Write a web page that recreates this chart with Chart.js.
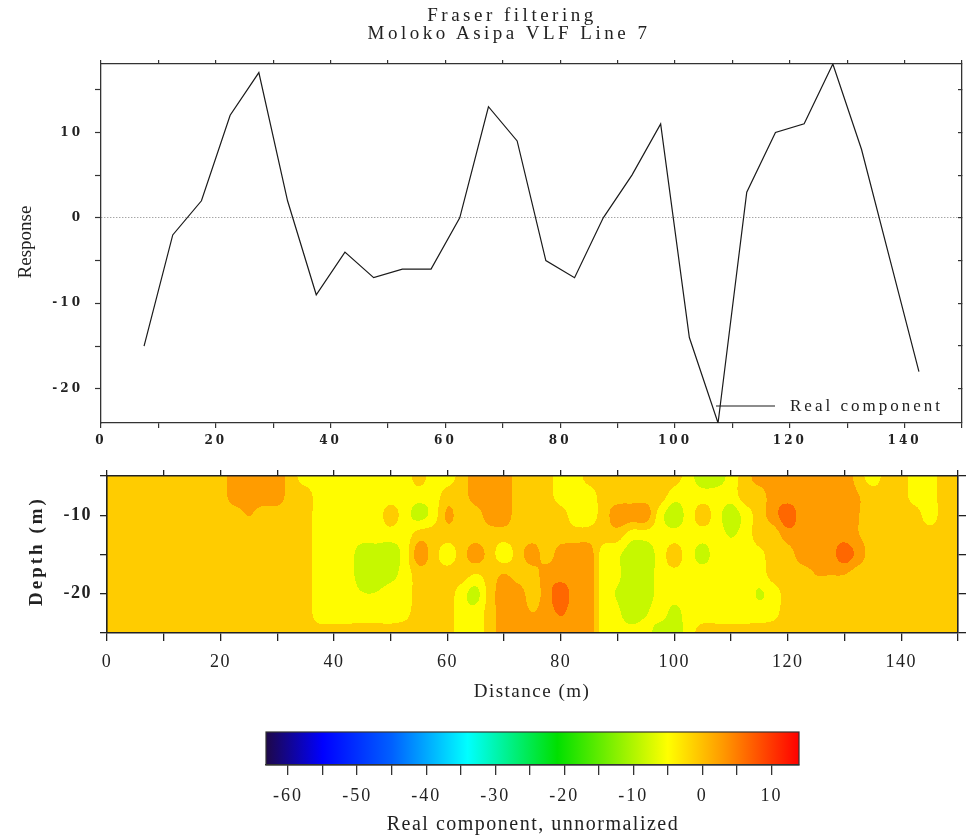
<!DOCTYPE html>
<html>
<head>
<meta charset="utf-8">
<script src="https://cdn.jsdelivr.net/npm/chart.js@4.4.1/dist/chart.umd.min.js"></script>
<style>
  html, body { margin: 0; padding: 0; background: #fff; }
  #page { position: relative; width: 968px; height: 835px; overflow: hidden; font-family: "Liberation Serif", serif; color: #222; }
  .box { position: absolute; left: 0; width: 968px; }
  .txt { position: absolute; white-space: nowrap; transform: translate(-50%, -50%); line-height: 1; }
  .rot { transform: translate(-50%, -50%) rotate(-90deg); }
</style>
</head>
<body>
<div id="page">
  <div class="box" style="top:0;height:450px"><canvas id="profile"></canvas></div>
  <div class="box" style="top:450px;height:270px"><canvas id="section"></canvas></div>
  <div class="box" style="top:720px;height:115px"><canvas id="scale"></canvas></div>

  <div class="txt" style="left:512px;top:14px;font-size:19px;letter-spacing:3.5px">Fraser filtering</div>
  <div class="txt" style="left:509px;top:32px;font-size:19px;letter-spacing:3.5px">Moloko Asipa VLF Line 7</div>
  <div class="txt rot" style="left:24px;top:242px;font-size:19px">Response</div>
  <div class="txt rot" style="left:35px;top:551px;font-size:19px;font-weight:bold;letter-spacing:3px">Depth (m)</div>
  <div class="txt" style="left:532px;top:690px;font-size:19px;letter-spacing:1.5px">Distance (m)</div>
  <div class="txt" style="left:533px;top:823px;font-size:20px;letter-spacing:1.5px">Real component, unnormalized</div>
</div>

<script>
// top panel: Fraser filtered profile
const stations = [7.5, 12.5, 17.5, 22.5, 27.5, 32.5, 37.5, 42.5, 47.5, 52.5, 57.5, 62.5, 67.5, 72.5,
  77.5, 82.5, 87.5, 92.5, 97.5, 102.5, 107.5, 112.5, 117.5, 122.5, 127.5, 132.5, 137.5, 142.5];
const fraserResponse = [-15, -2, 2, 12, 17, 2, -9, -4, -7, -6, -6, 0, 13, 9,
  -5, -7, 0, 5, 11, -14, -24, 3, 10, 11, 18, 8, -5, -18];

// middle panel: real component pseudo-section
const gridDistance = [0, 2.5, 5, 7.5, 10, 12.5, 15, 17.5, 20, 22.5, 25, 27.5, 30, 32.5, 35, 37.5, 40, 42.5, 45, 47.5,
  50, 52.5, 55, 57.5, 60, 62.5, 65, 67.5, 70, 72.5, 75, 77.5, 80, 82.5, 85, 87.5, 90, 92.5, 95, 97.5,
  100, 102.5, 105, 107.5, 110, 112.5, 115, 117.5, 120, 122.5, 125, 127.5, 130, 132.5, 135, 137.5, 140, 142.5, 145, 147.5, 150];
const gridDepth = [-5, -7.5, -10, -12.5, -15, -17.5, -20, -22.5, -25];
const realComponent = [
  [-1,-1,-1,-1,-1,-1,-1,-1,-1, 3,3,3,3, -1, -5,-5,-5,-5,-5,-5,-5,-5, -1, -5,-5, -1, 3,3,3, -1,-1,-1, -5,-5,
   -1,-1,-1,-1,-1,-1,-1, -5, -9,-9, -5, -1, 3,3,3,3,3,3,3, -1, -5, -1,-1, -5,-5, -1,-1],
  [-1,-1,-1,-1,-1,-1,-1,-1,-1, 3,3,3,3, -1,-1, -5,-5,-5,-5,-5,-5,-5,-5,-5, -1,-1, 3,3,3, -1,-1,-1, -5,-5,-5,
   -1,-1,-1,-1,-1, -5,-5,-5,-5,-5, -1,-1, 3,3,3,3,3,3, 1, -1,-1,-1, -5,-5, -1,-1],
  [-1,-1,-1,-1,-1,-1,-1,-1,-1,-1, 1, -1,-1,-1,-1, -5,-5,-5,-5,-5, -1, -5, -8, -5, 1.5, -1,-1, 3,3, -1,-1,-1,-1,
   -5,-5, -1, 3,3,3, -5, -9, -5, -1, -5, -9, -5, -1, 3, 7, 3,3,3,3, 1, -1,-1,-1,-1, -5, -1,-1],
  [-1,-1,-1,-1,-1,-1,-1,-1,-1,-1,-1,-1,-1,-1,-1, -5,-5,-5,-5,-5,-5,-5, -1,-1,-1,-1,-1,-1,-1,-1,-1,-1,-1,-1,-1,-1,-1,
   -5,-5,-5,-5,-5,-5,-5, -7, -5, -1,-1, 3,3,3,3,3, 1, -1,-1,-1,-1,-1,-1,-1],
  [-1,-1,-1,-1,-1,-1,-1,-1,-1,-1,-1,-1,-1,-1,-1, -5,-5,-5, -9,-9,-9, -5, 3, -1, -5, -1, 3, -1, -5, -1, 3, -1,
   3,3,3, -5, -6, -9,-9, -5, -1, -5, -8, -5,-5,-5, -4, -1,-1, 3,3,3, 7, 3, -1,-1,-1,-1,-1,-1,-1],
  [-1,-1,-1,-1,-1,-1,-1,-1,-1,-1,-1,-1,-1,-1,-1, -5,-5,-5, -9,-9, -8, -5, -1,-1,-1,-1, -3, -1, 1, -1,-1,
   3,3,3,3, -5, -6, -9,-9, -5, -4, -5,-5,-5,-5,-5,-5, -1,-1,-1, 1,1,1, -1,-1,-1,-1,-1,-1,-1,-1],
  [-1,-1,-1,-1,-1,-1,-1,-1,-1,-1,-1,-1,-1,-1,-1, -5,-5,-5, -6.5,-6.5, -5,-5, -1,-1,-1, -5, -8, -1, 3,3, -1, 3, 7, 3,3,
   -5, -7, -9,-9, -5,-5,-5,-5,-5,-5,-5, -7, -5, -1,-1,-1,-1,-1,-1,-1,-1,-1,-1,-1,-1,-1],
  [-1,-1,-1,-1,-1,-1,-1,-1,-1,-1,-1,-1,-1,-1,-1, -5,-5,-5,-5,-5,-5, -4, -1,-1,-1, -5,-5, -1, 3,3, 1, 3, 5, 3,3,
   -5, -6, -9, -7, -5, -8, -5,-5,-5,-5,-5,-5, -4, -1,-1,-1,-1,-1,-1,-1,-1,-1,-1,-1,-1,-1],
  [-1,-1,-1,-1,-1,-1,-1,-1,-1,-1,-1,-1,-1,-1,-1,-1,-1,-1,-1,-1,-1,-1,-1,-1,-1, -5,-5, -1, 3,3,3,3,3,3,3,
   -5,-5,-5,-5, -9,-9, -5, -1,-1,-1,-1,-1,-1,-1,-1,-1,-1,-1,-1,-1,-1,-1,-1,-1,-1,-1]
];

// colour scale
const paletteValues = [-63.2, -55, -45, -34, -21, -5, 3, 14];
const paletteColors = ["#1e0848", "#0000ff", "#0060ff", "#00ffff", "#00e000", "#ffff00", "#ff9900", "#ff0000"];
const contourLevels = [-14.3, -10.5, -6.7, -2.9, 0.9, 4.7, 8.5, 12.3];

realComponent.forEach((row, i) => {
  if (row.length !== gridDistance.length) console.error("row", i, "has", row.length, "values");
});

Chart.defaults.color = "#222";
Chart.defaults.font.family = '"Liberation Serif", serif';

function hexRgb(h) {
  return [parseInt(h.slice(1, 3), 16), parseInt(h.slice(3, 5), 16), parseInt(h.slice(5, 7), 16)];
}
function paletteAt(v) {
  if (v <= paletteValues[0]) return hexRgb(paletteColors[0]);
  for (let i = 0; i < paletteValues.length - 1; i++) {
    if (v <= paletteValues[i + 1]) {
      const t = (v - paletteValues[i]) / (paletteValues[i + 1] - paletteValues[i]);
      const a = hexRgb(paletteColors[i]), b = hexRgb(paletteColors[i + 1]);
      return a.map((c, k) => Math.round(c + (b[k] - c) * t));
    }
  }
  return hexRgb(paletteColors[paletteColors.length - 1]);
}
// each filled contour band takes the palette colour at its middle
const bandColors = contourLevels.slice(1).map((hi, k) => paletteAt((contourLevels[k] + hi) / 2));
function bandOf(v) {
  for (let k = 1; k < contourLevels.length; k++) if (v < contourLevels[k]) return bandColors[k - 1];
  return bandColors[bandColors.length - 1];
}
function locate(arr, v) {
  const up = arr[arr.length - 1] > arr[0];
  for (let i = 0; i < arr.length - 1; i++) {
    const a = arr[i], b = arr[i + 1];
    if (up ? v <= b : v >= b) return [i, Math.min(1, Math.max(0, (v - a) / (b - a)))];
  }
  return [arr.length - 2, 1];
}
// catmull-rom between p1 and p2
function cr(p0, p1, p2, p3, t) {
  return 0.5 * (2 * p1 + (p2 - p0) * t + (2 * p0 - 5 * p1 + 4 * p2 - p3) * t * t + (3 * p1 - p0 - 3 * p2 + p3) * t * t * t);
}
function alongRow(row, c, t) {
  const n = row.length - 1;
  return cr(row[Math.max(0, c - 1)], row[c], row[c + 1], row[Math.min(n, c + 2)], t);
}

function letterSpacing(px) {
  return {
    id: "letterSpacing",
    beforeUpdate(chart) { chart.ctx.letterSpacing = px; },
    beforeDraw(chart) { chart.ctx.letterSpacing = px; }
  };
}

const profileKey = {
  id: "profileKey",
  afterDatasetsDraw(chart) {
    const ds = chart.data.datasets[0];
    const { ctx, chartArea: a } = chart;
    const y = a.bottom - 17;
    ctx.save();
    ctx.strokeStyle = ds.borderColor;
    ctx.lineWidth = 1.2;
    ctx.beginPath();
    ctx.moveTo(a.left + 615, y);
    ctx.lineTo(a.left + 674, y);
    ctx.stroke();
    ctx.font = '17px "Liberation Serif"';
    ctx.letterSpacing = "3px";
    ctx.fillStyle = "#222";
    ctx.textBaseline = "middle";
    ctx.fillText(ds.label, a.left + 689, y + 1);
    ctx.restore();
  }
};

const sectionFill = {
  id: "sectionFill",
  beforeDraw(chart) {
    const { ctx, chartArea: a, scales: { x, y } } = chart;
    const left = Math.round(a.left), top = Math.round(a.top);
    const w = Math.round(a.right) - left, h = Math.round(a.bottom) - top;
    const img = ctx.createImageData(w, h);
    const nRows = realComponent.length - 1;
    const cols = [];
    for (let px = 0; px < w; px++) cols.push(locate(gridDistance, x.getValueForPixel(left + px + 0.5)));
    for (let py = 0; py < h; py++) {
      const [r, fr] = locate(gridDepth, y.getValueForPixel(top + py + 0.5));
      const rows = [realComponent[Math.max(0, r - 1)], realComponent[r], realComponent[r + 1], realComponent[Math.min(nRows, r + 2)]];
      for (let px = 0; px < w; px++) {
        const [c, fc] = cols[px];
        const v = cr(alongRow(rows[0], c, fc), alongRow(rows[1], c, fc), alongRow(rows[2], c, fc), alongRow(rows[3], c, fc), fr);
        const rgb = bandOf(v);
        const o = (py * w + px) * 4;
        img.data[o] = rgb[0]; img.data[o + 1] = rgb[1]; img.data[o + 2] = rgb[2]; img.data[o + 3] = 255;
      }
    }
    ctx.putImageData(img, left, top);
  }
};

const colourBar = {
  id: "colourBar",
  beforeDraw(chart) {
    const { ctx, chartArea: a, scales: { x } } = chart;
    const g = ctx.createLinearGradient(a.left, 0, a.right, 0);
    paletteValues.forEach((v, i) => {
      g.addColorStop(Math.min(1, Math.max(0, (x.getPixelForValue(v) - a.left) / (a.right - a.left))), paletteColors[i]);
    });
    ctx.fillStyle = g;
    ctx.fillRect(a.left, a.top, a.right - a.left, a.bottom - a.top);
  },
  afterDraw(chart) {
    const { ctx, chartArea: a } = chart;
    ctx.save();
    ctx.strokeStyle = "#333";
    ctx.lineWidth = 1.2;
    ctx.strokeRect(a.left, a.top, a.right - a.left, a.bottom - a.top);
    ctx.restore();
  }
};

const everyOther = step => v => (v % step === 0 ? String(v) : "");

new Chart(document.getElementById("profile"), {
  type: "line",
  data: {
    datasets: [{
      label: "Real component",
      data: stations.map((s, i) => ({ x: s, y: fraserResponse[i] })),
      borderColor: "#1a1a1a",
      borderWidth: 1.2,
      pointRadius: 0,
      tension: 0,
      fill: false
    }]
  },
  options: {
    animation: false,
    responsive: true,
    maintainAspectRatio: false,
    layout: { padding: 0 },
    plugins: { legend: { display: false }, tooltip: { enabled: false } },
    scales: {
      x: {
        type: "linear", position: "bottom", min: 0, max: 150,
        afterFit: s => { s.height = 27; },
        ticks: { stepSize: 10, autoSkip: false, includeBounds: false, maxRotation: 0, padding: 6,
                 font: { family: '"DejaVu Serif"', size: 12, weight: "bold" }, callback: everyOther(20) },
        grid: { drawOnChartArea: false, tickLength: 5, tickColor: "#333", lineWidth: 1.2 },
        border: { color: "#333", width: 1.3 }
      },
      x2: {
        type: "linear", position: "top", min: 0, max: 150,
        afterFit: s => { s.height = 64; },
        ticks: { display: false, stepSize: 10, includeBounds: false },
        grid: { drawOnChartArea: false, tickLength: 4, tickColor: "#333", lineWidth: 1.2 },
        border: { color: "#333", width: 1.3 }
      },
      y: {
        type: "linear", position: "left", min: -24, max: 18,
        afterFit: s => { s.width = 101; },
        ticks: { stepSize: 5, includeBounds: false, padding: 12,
                 font: { family: '"DejaVu Serif"', size: 12, weight: "bold" }, callback: everyOther(10) },
        grid: {
          color: c => (c.tick && c.tick.value === 0 ? "#808080" : "rgba(0,0,0,0)"),
          lineWidth: 1, tickLength: 6, tickColor: "#333", tickWidth: 1.2
        },
        border: { color: "#333", width: 1.3, dash: [1, 2] }
      },
      y2: {
        type: "linear", position: "right", min: -24, max: 18,
        afterFit: s => { s.width = 4; },
        ticks: { display: false, stepSize: 5, includeBounds: false },
        grid: { drawOnChartArea: false, tickLength: -4, tickColor: "#333", lineWidth: 1.2 },
        border: { color: "#333", width: 1.3 }
      }
    }
  },
  plugins: [profileKey, letterSpacing("3px")]
});

new Chart(document.getElementById("section"), {
  type: "scatter",
  data: { datasets: [] },
  options: {
    animation: false,
    responsive: true,
    maintainAspectRatio: false,
    layout: { padding: 0 },
    plugins: { legend: { display: false }, tooltip: { enabled: false } },
    scales: {
      x: {
        type: "linear", position: "bottom", min: 0, max: 150,
        afterFit: s => { s.height = 87; },
        ticks: { stepSize: 10, autoSkip: false, includeBounds: false, maxRotation: 0, padding: 10,
                 font: { size: 18 }, callback: everyOther(20) },
        grid: { drawOnChartArea: false, tickLength: 8, tickColor: "#222", lineWidth: 1.3 },
        border: { color: "#222", width: 1.6 }
      },
      x2: {
        type: "linear", position: "top", min: 0, max: 150,
        afterFit: s => { s.height = 26; },
        ticks: { display: false, stepSize: 10 },
        grid: { drawOnChartArea: false, tickLength: 6, tickColor: "#222", lineWidth: 1.3 },
        border: { color: "#222", width: 1.6 }
      },
      y: {
        type: "linear", position: "left", min: -25, max: -5,
        afterFit: s => { s.width = 107; },
        ticks: { stepSize: 5, padding: 8, font: { size: 18, weight: "bold" }, callback: everyOther(10) },
        grid: { drawOnChartArea: false, tickLength: 7, tickColor: "#222", lineWidth: 1.3 },
        border: { color: "#222", width: 1.6 }
      },
      y2: {
        type: "linear", position: "right", min: -25, max: -5,
        afterFit: s => { s.width = 9; },
        ticks: { display: false, stepSize: 5 },
        grid: { drawOnChartArea: false, tickLength: 8, tickColor: "#222", lineWidth: 1.3 },
        border: { color: "#222", width: 1.6 }
      }
    }
  },
  plugins: [sectionFill, letterSpacing("1.5px")]
});

new Chart(document.getElementById("scale"), {
  type: "line",
  data: { datasets: [] },
  options: {
    animation: false,
    responsive: true,
    maintainAspectRatio: false,
    layout: { padding: { left: 266, right: 169, top: 12, bottom: 0 } },
    plugins: { legend: { display: false }, tooltip: { enabled: false } },
    scales: {
      x: {
        type: "linear", position: "bottom", min: -63.2, max: 14,
        afterFit: s => { s.height = 70; },
        ticks: { stepSize: 5, autoSkip: false, includeBounds: false, maxRotation: 0, padding: 10,
                 font: { size: 18 }, callback: everyOther(10) },
        grid: { drawOnChartArea: false, tickLength: 10, tickColor: "#333", lineWidth: 1.3 },
        border: { color: "#333", width: 1.2 }
      },
      y: { display: false, min: 0, max: 1 }
    }
  },
  plugins: [colourBar, letterSpacing("2px")]
});
</script>
</body>
</html>
